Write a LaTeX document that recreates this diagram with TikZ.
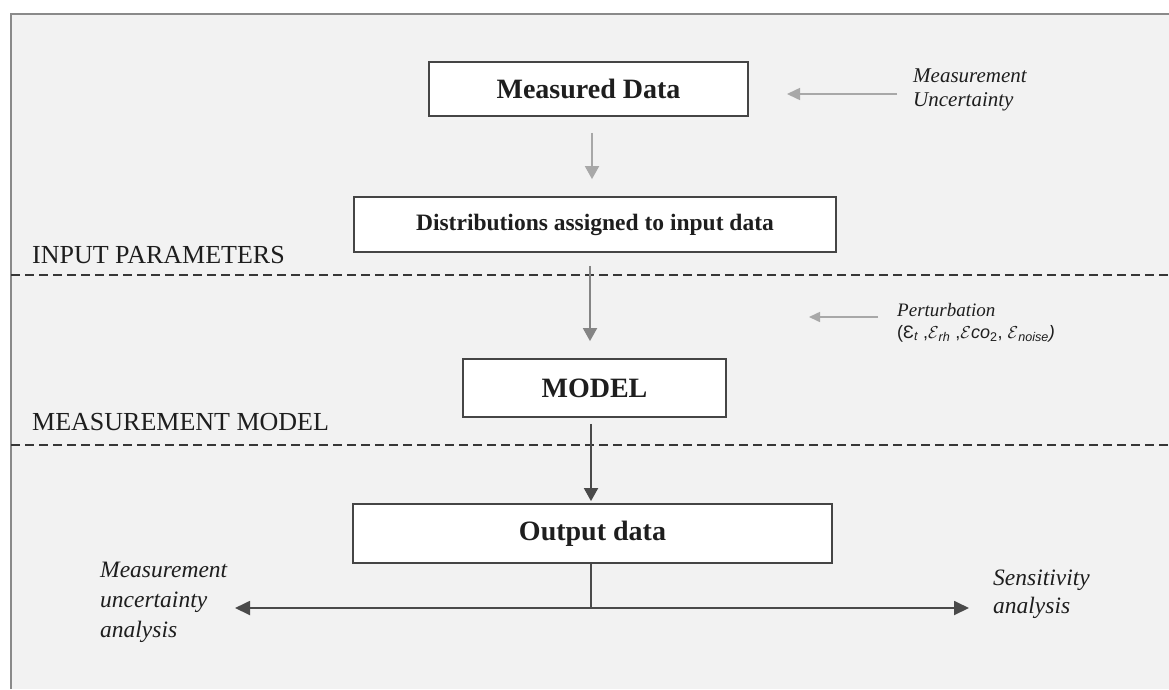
\documentclass[tikz,border=0pt]{standalone}
\usepackage{fontspec}
\setmainfont{Liberation Serif}
\newfontfamily\sansit{Liberation Sans}
\usetikzlibrary{arrows.meta}
\definecolor{bg}{HTML}{F2F2F2}
\definecolor{framegray}{HTML}{8A8A8A}
\definecolor{boxgray}{HTML}{454545}
\definecolor{txt}{HTML}{1E1E1E}
\definecolor{arrA}{HTML}{A8A8A8}
\definecolor{arrB}{HTML}{858585}
\definecolor{arrC}{HTML}{4A4A4A}
\begin{document}
\begin{tikzpicture}[x=1pt,y=-1pt,
  box/.style={draw=boxgray, fill=white, line width=1.8pt, inner sep=0pt, text=txt},
  bigbold/.style={font=\fontsize{28}{32}\selectfont\bfseries},
  midbold/.style={font=\fontsize{23.5}{28}\selectfont\bfseries},
  caps/.style={font=\fontsize{26}{30}\selectfont, text=txt, inner sep=0pt, anchor=base west},
  itlabel/.style={text=txt, inner sep=0pt, align=left, anchor=north west},
  sepline/.style={dash pattern=on 9pt off 5pt, line width=2.2pt, draw=boxgray!80!black},
  garrow/.style={line width=1.8pt, -{Triangle[length=13pt,width=14pt]}},
]
\useasboundingbox (0,0) rectangle (1169,689);
\fill[bg] (11,14) rectangle (1169,689);
\draw[framegray, line width=2pt] (11,689) -- (11,14) -- (1169,14);

% boxes
\node[box, bigbold, minimum width=319pt, minimum height=54pt] (md) at (588.5,89) {Measured Data};
\node[box, midbold, minimum width=482pt, minimum height=55pt] (dist) at (595,224.5) {Distributions assigned to input data};
\node[box, bigbold, minimum width=263pt, minimum height=58pt] (model) at (594.5,388) {MODEL};
\node[box, bigbold, minimum width=479pt, minimum height=59pt] (out) at (592.5,533.5) {Output data};

% separators
\draw[sepline] (11,275) -- (1169,275);
\draw[sepline] (11,445) -- (1169,445);
\node[caps] (ip) at (32,263) {INPUT PARAMETERS};
\node[caps] (mm) at (32,430) {MEASUREMENT MODEL};

% side labels
\node[itlabel, font=\fontsize{21}{24}\selectfont\itshape] (mu) at (913,69) {Measurement\\Uncertainty};
\node[itlabel, font=\fontsize{19}{22}\selectfont] (pert) at (897,303) {{\itshape Perturbation}\\
  {\sansit\fontsize{18}{22}\selectfont ({\upshape Ɛ}\textsubscript{\itshape t} ,$\mathcal{E}$\textsubscript{\itshape rh} ,$\mathcal{E}${\itshape co}\textsubscript{2}, $\mathcal{E}$\textsubscript{\itshape noise}{\itshape)}}};
\node[itlabel, font=\fontsize{23.5}{30}\selectfont\itshape] (mua) at (100,562) {Measurement\\uncertainty\\analysis};
\node[itlabel, font=\fontsize{23.5}{28}\selectfont\itshape] (sa) at (993,570) {Sensitivity\\analysis};

% coordinates
\coordinate (muTip) at (787,94);
\coordinate (muStart) at (897,94);
\coordinate (ptTip) at (809,317);
\coordinate (ptStart) at (878,317);
\coordinate (hL) at (235,608);
\coordinate (hR) at (969,608);

% arrows
\draw[garrow, arrA] ([xshift=3.5pt,yshift=-16pt]md.south) -- ([xshift=3.5pt,yshift=17pt]md.south |- dist.north);
\draw[garrow, arrB] ([xshift=-5pt,yshift=-13pt]dist.south) -- ([xshift=-5pt,yshift=17pt]dist.south |- model.north);
\draw[garrow, arrC] ([xshift=-3.5pt,yshift=-6pt]model.south) -- ([xshift=-3.5pt,yshift=2pt]model.south |- out.north);
\draw[line width=1.6pt, arrA, -{Triangle[length=13pt,width=12pt]}] (muStart) -- (muTip);
\draw[line width=1.6pt, arrA, -{Triangle[length=11pt,width=10pt]}] (ptStart) -- (ptTip);
\draw[line width=1.8pt, arrC] ([xshift=-1.5pt]out.south) -- ([xshift=-1.5pt]out.south |- hL);
\draw[line width=1.8pt, arrC, {Triangle[length=15pt,width=14pt]}-{Triangle[length=15pt,width=14pt]}] (hL) -- (hR);
\end{tikzpicture}
\end{document}
